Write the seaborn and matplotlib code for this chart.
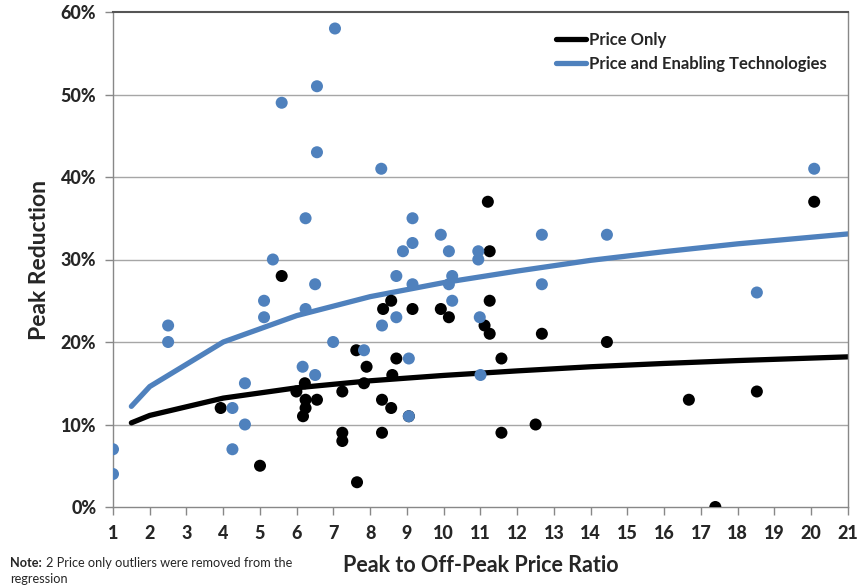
import numpy as np
import pandas as pd
import matplotlib
matplotlib.use("Agg")
import matplotlib.pyplot as plt
import seaborn as sns

# ---- data ----
price_only_x = [3.93, 5.0, 5.59, 5.99, 6.22, 6.24, 6.55, 6.24, 6.17, 7.24, 7.24, 7.24,
                7.64, 7.62, 7.90, 7.83, 8.32, 8.32, 8.57, 8.60, 8.71, 8.35, 8.57, 9.15,
                9.92, 10.14, 11.20, 11.25, 11.25, 11.11, 11.25, 12.67, 11.57, 11.57, 12.5,
                14.44, 16.67, 17.39, 18.52, 20.08, 9.05]
price_only_y = [12, 5, 28, 14, 15, 13, 13, 12, 11, 14, 9, 8,
                3, 19, 17, 15, 9, 13, 12, 16, 18, 24, 25, 24,
                24, 23, 37, 31, 25, 22, 21, 21, 18, 9, 10,
                20, 13, 0, 14, 37, 11]

enabling_x = [1.0, 1.0, 2.5, 2.5, 4.25, 4.25, 4.59, 4.59, 5.11, 5.11, 5.35, 5.59,
              6.24, 6.24, 6.16, 6.50, 6.50, 6.55, 6.55, 7.04, 6.99, 7.83, 8.30, 8.32,
              8.71, 8.71, 8.89, 9.15, 9.15, 9.15, 9.05, 9.05, 9.92, 10.14, 10.23, 10.14,
              10.23, 10.94, 10.94, 10.98, 11.0, 12.67, 12.67, 14.44, 18.52, 20.08]
enabling_y = [7, 4, 22, 20, 12, 7, 15, 10, 25, 23, 30, 49,
              35, 24, 17, 27, 16, 51, 43, 58, 20, 19, 41, 22,
              28, 23, 31, 35, 32, 27, 18, 11, 33, 31, 28, 27,
              25, 31, 30, 23, 16, 33, 27, 33, 26, 41]

# regression curves
curve_x = [1.5, 2, 4, 6, 8, 10, 12, 14, 16, 18, 21]
curve_price_only = [10.2, 11.1, 13.2, 14.45, 15.3, 15.95, 16.5, 17.0, 17.4, 17.75, 18.2]
curve_enabling = [12.2, 14.6, 20.0, 23.2, 25.5, 27.2, 28.6, 29.9, 30.95, 31.9, 33.1]

x_ticks = list(range(1, 22))
y_ticks = [0, 10, 20, 30, 40, 50, 60]
y_tick_labels = [f"{v}%" for v in y_ticks]

BLACK = "#000000"
BLUE = "#4F81BD"

sns.set_theme(style="white")
plt.rcParams['font.family'] = ['Lato', 'DejaVu Sans']

pts_black = pd.DataFrame({"x": price_only_x, "y": price_only_y})
pts_blue = pd.DataFrame({"x": enabling_x, "y": enabling_y})
curves = pd.DataFrame({
    "x": curve_x * 2,
    "y": curve_price_only + curve_enabling,
    "series": ["Price Only"] * len(curve_x) + ["Price and Enabling Technologies"] * len(curve_x),
})

fig = plt.figure(figsize=(8.62, 5.87), dpi=100)
ax = fig.add_axes([113 / 862, 1 - 507 / 587, 735 / 862, 495 / 587])

for yv in y_ticks[1:-1]:
    ax.axhline(yv, color="#a6a6a6", lw=1.0, zorder=0)

sns.lineplot(data=curves, x="x", y="y", hue="series",
             palette={"Price Only": BLACK, "Price and Enabling Technologies": BLUE},
             lw=3.8, ax=ax, legend=True, zorder=2, sort=False, estimator=None)
sns.scatterplot(data=pts_black, x="x", y="y", color=BLACK, s=75, edgecolor="none",
                ax=ax, zorder=3, legend=False)
sns.scatterplot(data=pts_blue, x="x", y="y", color=BLUE, s=75, edgecolor="none",
                ax=ax, zorder=4, legend=False)

ax.set_xlim(1, 21)
ax.set_ylim(0, 60)
ax.set_xticks(x_ticks)
ax.set_xticklabels([str(t) for t in x_ticks], fontsize=13, fontweight="black")
ax.set_yticks(y_ticks)
ax.set_yticklabels(y_tick_labels, fontsize=13, fontweight="black")
ax.tick_params(axis="both", which="both", length=6, width=1, color="#888888",
               direction="out", pad=6, left=True, bottom=True)
ax.tick_params(axis="x", pad=7)

for side in ["left", "bottom", "right"]:
    ax.spines[side].set_color("#888888")
    ax.spines[side].set_linewidth(1.0)
ax.spines["top"].set_color("#555555")
ax.spines["top"].set_linewidth(1.5)

ax.set_xlabel("Peak to Off-Peak Price Ratio", fontsize=15.5, fontweight="bold", labelpad=9)
ax.set_ylabel("Peak Reduction", fontsize=16.5, fontweight="bold", labelpad=8)

handles, labels = ax.get_legend_handles_labels()
leg = ax.legend(handles=handles, labels=labels, loc="upper right",
                bbox_to_anchor=(0.992, 0.99), frameon=False,
                prop={"weight": "bold", "size": 12}, handlelength=1.8,
                labelspacing=0.5, handletextpad=0.2)

note_y = 1 - 563 / 587
t_note = fig.text(10 / 862, note_y, "Note:", fontsize=9.2, fontweight="bold", va="center")
fig.canvas.draw()
bb = t_note.get_window_extent(renderer=fig.canvas.get_renderer())
fig.text((bb.x1 + 4) / 862, note_y, "2 Price only outliers were removed from the",
         fontsize=9.2, va="center")
fig.text(10 / 862, 1 - 579 / 587, "regression", fontsize=9.2, va="center")

fig.savefig("out.png", dpi=100)
